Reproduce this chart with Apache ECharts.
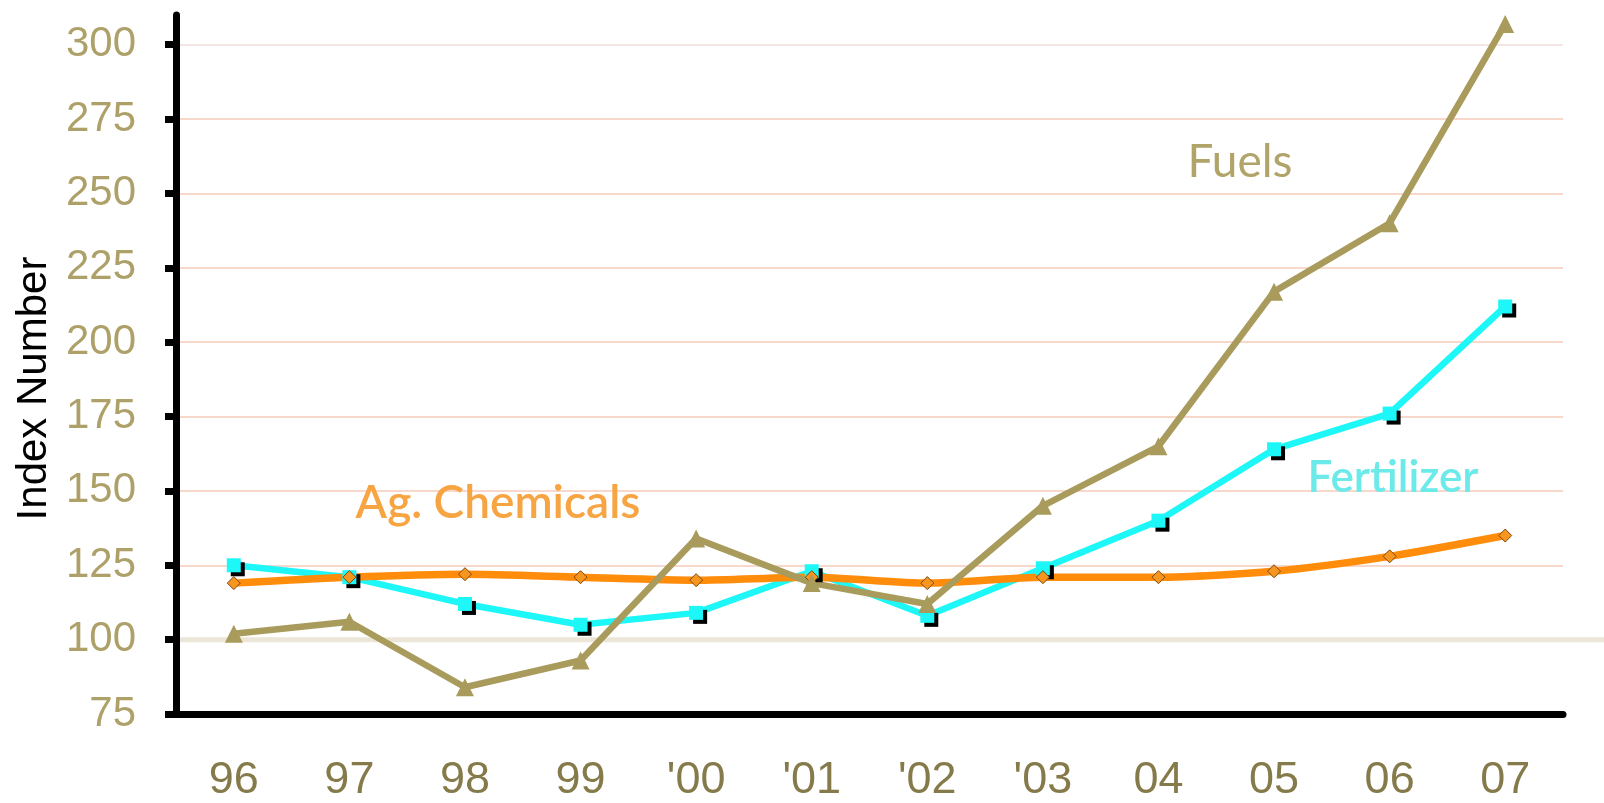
<!DOCTYPE html>
<html>
<head>
<meta charset="utf-8">
<title>Index Number: Fuels, Fertilizer, Ag. Chemicals</title>
<script src="https://cdn.jsdelivr.net/npm/echarts@6/dist/echarts.min.js"></script>
<style>
  html, body { margin: 0; padding: 0; background: #ffffff; }
  #chart { width: 1604px; height: 803px; }
</style>
</head>
<body>
<div id="chart"></div>
<script>
// Years along the bottom axis
const years = ['96', '97', '98', '99', "'00", "'01", "'02", "'03", '04', '05', '06', '07'];

// Index values per input category
const fuels      = [102, 106, 84, 93, 134, 119, 112, 145, 165, 217, 240, 307];
const fertilizer = [125, 121, 112, 105, 109, 123, 108, 124, 140, 164, 176, 212];
const agChem     = [119, 121, 122, 121, 120, 121, 119, 121, 121, 123, 128, 135];

// Labelled values on the vertical axis
const yTicks = [75, 100, 125, 150, 175, 200, 225, 250, 275, 300];
const baseline = 100;

const gridLeft = 176, gridRight = 41, gridTop = 15, gridBottom = 82;

const chart = echarts.init(document.getElementById('chart'), null, { renderer: 'canvas' });

const pink = '#f9d8cc';
const option = {
  backgroundColor: '#ffffff',
  animation: false,
  grid: { left: gridLeft, right: gridRight, top: gridTop, bottom: gridBottom, containLabel: false },
  xAxis: {
    type: 'category',
    data: years,
    boundaryGap: true,
    axisLine: { show: true, lineStyle: { color: '#000', width: 7 } },
    axisTick: { show: false },
    axisLabel: {
      color: '#857a4a',
      fontFamily: 'Liberation Sans, Arial, sans-serif',
      fontSize: 45,
      margin: 44
    },
    splitLine: { show: false }
  },
  yAxis: {
    type: 'value',
    min: 75,
    max: 310,
    interval: 25,
    name: 'Index Number',
    nameLocation: 'middle',
    nameRotate: 90,
    nameGap: 117,
    nameTextStyle: {
      color: '#000',
      fontFamily: 'Liberation Sans, Arial, sans-serif',
      fontSize: 42,
      padding: [0, 48, 0, 0]
    },
    axisLine: { show: true, lineStyle: { color: '#000', width: 7 } },
    axisTick: {
      show: true,
      length: 11,
      customValues: yTicks,
      lineStyle: { color: '#000', width: 7 }
    },
    axisLabel: {
      customValues: yTicks,
      color: '#ada068',
      fontFamily: 'Liberation Sans, Arial, sans-serif',
      fontSize: 42,
      margin: 40
    },
    splitLine: {
      show: true,
      lineStyle: {
        width: 2,
        color: ['transparent', 'transparent', pink, pink, pink, pink, pink, pink, pink, '#f4e6e4', 'transparent']
      }
    }
  },
  series: [
    {
      name: 'Fertilizer',
      type: 'line',
      data: fertilizer,
      symbol: 'rect',
      symbolSize: 14,
      lineStyle: { color: '#1ef7f7', width: 6.5 },
      itemStyle: {
        color: '#1ef7f7',
        shadowColor: '#000',
        shadowOffsetX: 4,
        shadowOffsetY: 4,
        shadowBlur: 0
      }
    },
    {
      name: 'Ag. Chemicals',
      type: 'line',
      data: agChem,
      smooth: 0.25,
      symbol: 'diamond',
      symbolSize: 13,
      lineStyle: { color: '#ff8c0a', width: 7.5 },
      itemStyle: { color: '#f7961e', borderColor: '#7a4810', borderWidth: 1 }
    },
    {
      name: 'Fuels',
      type: 'line',
      data: fuels,
      symbol: 'triangle',
      symbolSize: 18,
      lineStyle: { color: '#a89b5c', width: 6.5 },
      itemStyle: { color: '#a89b5c' }
    }
  ]
};

chart.setOption(option);

// Baseline at 100 runs from the axis out to the page edge; series labels sit beside their lines
const yBase = chart.convertToPixel({ yAxisIndex: 0 }, baseline);
const labelFont = 'Lato, "Open Sans", sans-serif';
chart.setOption({
  graphic: [
    {
      type: 'line',
      z: -1,
      silent: true,
      shape: { x1: gridLeft + 3, y1: yBase, x2: chart.getWidth(), y2: yBase },
      style: { stroke: '#ebe6d8', lineWidth: 5 }
    },
    {
      type: 'text',
      x: 1240, y: 162,
      style: {
        text: 'Fuels',
        fill: '#b0a468',
        font: '46px ' + labelFont,
        align: 'center',
        verticalAlign: 'middle'
      }
    },
    {
      type: 'text',
      x: 1393, y: 478,
      style: {
        text: 'Fertilizer',
        fill: '#6ceaea',
        font: '600 44px ' + labelFont,
        align: 'center',
        verticalAlign: 'middle',
        shadowColor: 'rgba(90,90,90,0.55)',
        shadowOffsetX: 2,
        shadowOffsetY: 2,
        shadowBlur: 3
      }
    },
    {
      type: 'text',
      x: 498, y: 503,
      style: {
        text: 'Ag. Chemicals',
        fill: '#f7a442',
        font: '600 46px ' + labelFont,
        align: 'center',
        verticalAlign: 'middle',
        shadowColor: 'rgba(90,90,90,0.55)',
        shadowOffsetX: 2,
        shadowOffsetY: 2,
        shadowBlur: 3
      }
    }
  ]
});
</script>
</body>
</html>
